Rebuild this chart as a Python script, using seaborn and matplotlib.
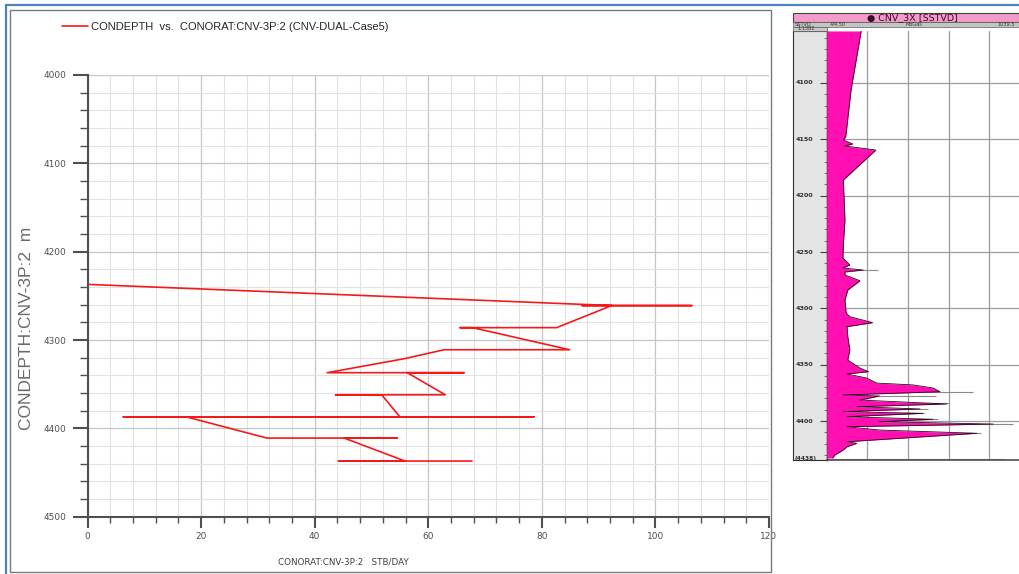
import matplotlib
matplotlib.use("Agg")
import matplotlib.pyplot as plt
import seaborn as sns
import pandas as pd
from matplotlib.patches import Rectangle
from matplotlib.lines import Line2D
from matplotlib.ticker import MultipleLocator

# ---- crossplot: connate water rate vs depth ----
cond_depth = [4211, 4237, 4261, 4261, 4261, 4261, 4286, 4286, 4286, 4311, 4311,
              4321, 4337, 4337, 4337, 4362, 4362, 4362, 4387, 4387, 4387, 4387,
              4411, 4411, 4411, 4437, 4437, 4437]
conorat = [0.0, 0.0, 92.3, 87.1, 106.4, 92.3, 82.6, 65.6, 67.8, 84.9, 62.8,
           55.9, 42.2, 66.3, 56.3, 63.0, 43.7, 51.8, 55.0, 6.3, 78.6, 17.4,
           31.6, 54.5, 45.2, 55.9, 44.2, 67.7]
series_label = "CONDEPTH  vs.  CONORAT:CNV-3P:2 (CNV-DUAL-Case5)"
depth_ticks = [4000, 4100, 4200, 4300, 4400, 4500]
rate_ticks = [0, 20, 40, 60, 80, 100, 120]

# ---- log track: CNV_3X vs SSTVD ----
log_depth = [4053.8, 4106.2, 4147.7, 4150.6, 4154.1, 4155.9, 4159.5, 4186.1,
             4203.8, 4221.6, 4243.8, 4255.3, 4261.5, 4264.2, 4266.0, 4267.7,
             4270.4, 4275.5, 4283.7, 4292.6, 4304.1, 4307.4, 4312.7, 4316.3,
             4325.2, 4337.0, 4345.9, 4353.0, 4356.2, 4358.3, 4361.8, 4366.3,
             4368.0, 4370.7, 4374.0, 4376.9, 4377.8, 4381.4, 4384.9, 4387.3,
             4389.3, 4391.7, 4393.2, 4396.2, 4398.5, 4400.6, 4402.7, 4405.1,
             4408.0, 4410.9, 4418.4, 4419.8, 4422.8, 4425.7, 4430.2, 4432.8]
log_value = [0.85, 0.60, 0.47, 0.41, 0.64, 0.45, 1.21, 0.41,
             0.43, 0.45, 0.41, 0.40, 0.57, 0.40, 0.90, 0.45,
             0.45, 0.82, 0.52, 0.45, 0.48, 0.57, 1.13, 0.50,
             0.52, 0.57, 0.52, 0.82, 1.03, 0.50, 0.98, 1.23,
             2.13, 2.62, 2.79, 0.41, 1.30, 0.82, 2.96, 0.74,
             2.30, 0.41, 2.37, 0.50, 2.62, 1.30, 4.10, 0.50,
             1.30, 3.70, 0.50, 0.74, 0.50, 0.41, 0.20, 0.15]
spike_depth = [4266.0, 4374.5, 4377.8, 4384.0, 4389.0, 4393.0, 4398.0, 4403.0, 4411.0, 4433.5]
spike_value = [1.27, 3.60, 2.70, 3.00, 2.50, 2.40, 2.75, 4.60, 3.80, 4.40]
log_depth_labels = [4100, 4150, 4200, 4250, 4300, 4350, 4400]

W, H = 1019, 574
sns.set_theme(style="white")
plt.rcParams["font.family"] = ["Liberation Sans", "DejaVu Sans"]

fig = plt.figure(figsize=(W / 100, H / 100), dpi=100)


def box(x0, y0, x1, y1):
    return [x0 / W, 1 - y1 / H, (x1 - x0) / W, (y1 - y0) / H]


# ---------------- main crossplot ----------------
ax = fig.add_axes(box(87.5, 75, 769, 516.7))
df = pd.DataFrame({"CONORAT": conorat, "CONDEPTH": cond_depth})
sns.lineplot(data=df, x="CONORAT", y="CONDEPTH", sort=False, estimator=None,
             color="#f41a1a", lw=1.2, ax=ax, label=series_label)
ax.set_xlim(0, 120)
ax.set_ylim(4500, 4000)
ax.set_xticks(rate_ticks)
ax.set_yticks(depth_ticks)
ax.xaxis.set_minor_locator(MultipleLocator(4))
ax.yaxis.set_minor_locator(MultipleLocator(20))
ax.set_axisbelow(True)
ax.grid(which="major", color="#c6c6c6", lw=0.9)
ax.grid(which="minor", color="#e2e2e2", lw=0.8)
for s in ("top", "right"):
    ax.spines[s].set_visible(False)
for s in ("left", "bottom"):
    ax.spines[s].set_color("#505050")
    ax.spines[s].set_linewidth(1.5)
ax.tick_params(axis="y", which="major", length=10.8, width=1.5, color="#505050",
               labelsize=6.5, labelcolor="#505050", pad=4.5, left=True)
ax.tick_params(axis="y", which="minor", length=5.8, width=1.0, color="#505050", left=True)
ax.tick_params(axis="x", which="major", length=7.9, width=1.5, color="#505050",
               labelsize=6.5, labelcolor="#505050", pad=3, bottom=True)
ax.tick_params(axis="x", which="minor", length=4.3, width=1.0, color="#505050", bottom=True)
for lab in ax.get_xticklabels() + ax.get_yticklabels():
    lab.set_family("DejaVu Sans")
ax.set_xlabel("")
ax.set_ylabel("")
ax.legend(loc="center left", bbox_to_anchor=(62 / W, 1 - 27 / H),
          bbox_transform=fig.transFigure, frameon=False, fontsize=8,
          handlelength=2.3, handletextpad=0.35, borderaxespad=0, borderpad=0)

fig.text(27 / W, 1 - 328 / H, "CONDEPTH:CNV-3P:2  m", rotation=90,
         ha="center", va="center", fontsize=12.5, color="#6a6a6a",
         fontweight="light")
fig.text(343 / W, 1 - 562 / H, "CONORAT:CNV-3P:2   STB/DAY", ha="center",
         va="center", fontsize=6.3, color="#404040", family="DejaVu Sans")

# ---------------- log panel ----------------
top_px, bot_px = 31, 460
d_top = 4100 - (83 - top_px) / 1.1267
d_bot = 4100 + (bot_px - 83) / 1.1267

axd = fig.add_axes(box(793, top_px, 826.7, bot_px))
axd.set_facecolor("#e4e4e4")
axd.set_ylim(d_bot, d_top)
axd.set_xlim(0, 1)
axd.set_xticks([])
axd.yaxis.set_ticks_position("right")
axd.yaxis.set_major_locator(MultipleLocator(50))
axd.yaxis.set_minor_locator(MultipleLocator(10))
axd.tick_params(axis="y", which="major", direction="in", length=5, width=0.8,
                color="#404040", labelright=False)
axd.tick_params(axis="y", which="minor", direction="in", length=2.5, width=0.6,
                color="#606060")
for s in axd.spines.values():
    s.set_color("#303030")
    s.set_linewidth(0.8)
for d in log_depth_labels:
    axd.text(0.07, d, str(d), ha="left", va="center", fontsize=4.6,
             fontweight="bold", color="#303030", family="DejaVu Sans")
axd.text(0.05, d_bot - 1.5, "(4438)", ha="left", va="center", fontsize=4.2,
         fontweight="bold", color="#303030", family="DejaVu Sans")

axr = fig.add_axes(box(826.7, top_px, 1045, bot_px))
axr.set_xlim(0, (1045 - 826.7) / 40.6)
axr.set_ylim(d_bot, d_top)
axr.set_xticks([1, 2, 3, 4, 5])
axr.set_yticks(log_depth_labels)
axr.tick_params(length=0, labelbottom=False, labelleft=False)
axr.grid(True, color="#9c9c9c", lw=0.9)
axr.set_axisbelow(True)
for s in axr.spines.values():
    s.set_visible(False)
axr.spines["left"].set_visible(True)
axr.spines["left"].set_color("#202020")
axr.spines["left"].set_linewidth(1.0)
axr.spines["bottom"].set_visible(True)
axr.spines["bottom"].set_color("#505050")
axr.spines["bottom"].set_linewidth(1.2)

axr.hlines(spike_depth, 0, spike_value, color="#8a8a8a", lw=0.8, zorder=2)
axr.fill_betweenx(log_depth, 0, log_value, color="#ff0fb2", lw=0, zorder=3)
log_df = pd.DataFrame({"v": log_value, "d": log_depth})
sns.lineplot(data=log_df, x="v", y="d", sort=False, estimator=None,
             color="#2a0a20", lw=0.6, ax=axr, zorder=4)
axr.set_xlabel("")
axr.set_ylabel("")

# header rows
fig.patches.append(Rectangle((793 / W, 1 - 22 / H), (1019 - 793) / W, 9 / H,
                             transform=fig.transFigure, facecolor="#f39ccb",
                             edgecolor="#404040", lw=0.8))
fig.patches.append(Rectangle((793 / W, 1 - 27 / H), (1019 - 793) / W, 5 / H,
                             transform=fig.transFigure, facecolor="#c4c4c4",
                             edgecolor="#606060", lw=0.5))
fig.patches.append(Rectangle((793 / W, 1 - 31 / H), (826.7 - 793) / W, 4 / H,
                             transform=fig.transFigure, facecolor="#c8c8c8",
                             edgecolor="#606060", lw=0.5))
fig.text(912 / W, 1 - 17.5 / H, "\u25cf CNV_3X [SSTVD]", ha="center", va="center",
         fontsize=6.8, color="#3a0a20", family="DejaVu Sans")
for x, t in [(795, "SSTVD"), (830, "-94.50"), (905, "MoGas"), (997, "1039.5")]:
    fig.text(x / W, 1 - 24.5 / H, t, ha="left", va="center", fontsize=3.6,
             color="#303030", family="DejaVu Sans")
fig.text(797 / W, 1 - 29 / H, "1:1382", ha="left", va="center", fontsize=3.6,
         color="#303030", family="DejaVu Sans")

# frames around the chart area
fig.patches.append(Rectangle((9.5 / W, 1 - 572 / H), (771 - 9.5) / W, (572 - 9.5) / H,
                             transform=fig.transFigure, fill=False,
                             edgecolor="#7a7a7a", lw=1.0))
fig.lines.append(Line2D([5.5 / W, 5.5 / W], [0, 1 - 4.5 / H],
                        transform=fig.transFigure, color="#4f81bd", lw=1.6))
fig.lines.append(Line2D([5.5 / W, 1], [1 - 4.5 / H, 1 - 4.5 / H],
                        transform=fig.transFigure, color="#4f81bd", lw=1.6))

fig.savefig("out.png", dpi=100)
